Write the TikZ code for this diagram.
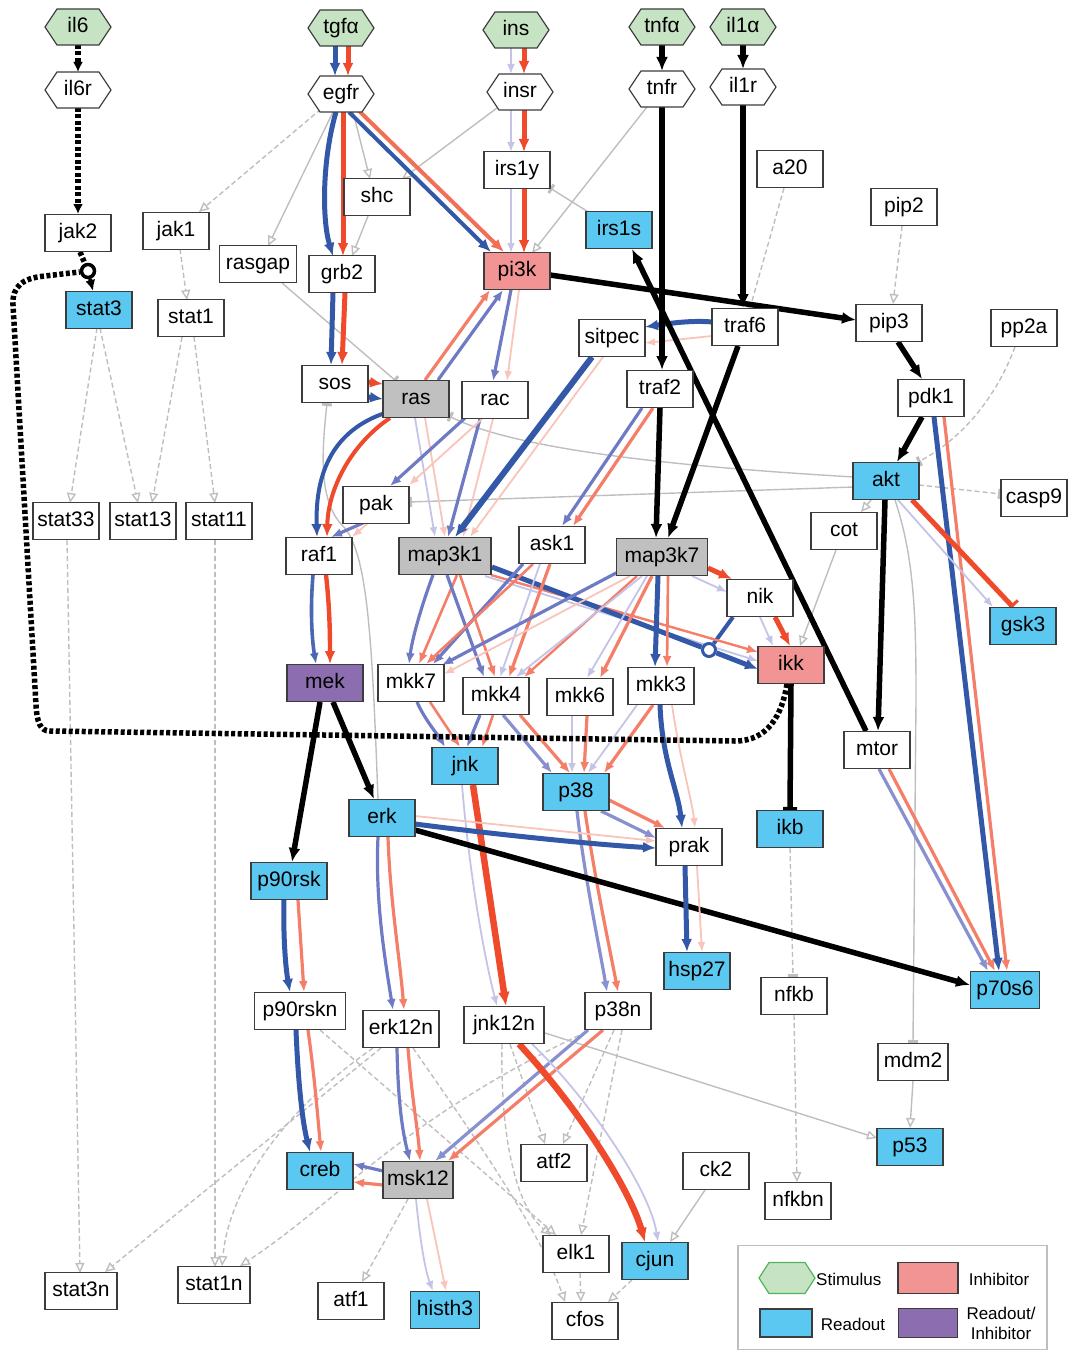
\documentclass[tikz,border=0pt]{standalone}
\usepackage{fontspec}
\setmainfont{Liberation Sans}
\usetikzlibrary{arrows.meta,backgrounds}
\definecolor{bd}{RGB}{60,60,60}
\definecolor{stim}{RGB}{198,228,196}
\definecolor{ro}{RGB}{90,200,240}
\definecolor{inh}{RGB}{242,148,148}
\definecolor{pur}{RGB}{140,110,176}
\definecolor{gnode}{RGB}{192,192,192}
\definecolor{Bdk}{RGB}{52,88,168}
\definecolor{Bmd}{RGB}{110,122,196}
\definecolor{Blt}{RGB}{196,196,232}
\definecolor{Rdk}{RGB}{240,74,44}
\definecolor{Rmd}{RGB}{244,126,104}
\definecolor{Rlt}{RGB}{249,196,186}
\definecolor{Gry}{RGB}{190,190,190}
\definecolor{leggreen}{RGB}{80,180,90}
\newcommand\nfont{\fontsize{21}{25}\selectfont}
\newcommand\lfont{\fontsize{17}{20}\selectfont}
\newcommand\hexn[5]{\draw[line width=1.2pt,draw=bd,fill=#5] (#2-33,#3) -- (#2-21,#3-18) -- (#2+21,#3-18) -- (#2+33,#3) -- (#2+21,#3+18) -- (#2-21,#3+18) -- cycle; \node[hexnode] (#1) at (#2,#3) {#4};}
\begin{document}
\begin{tikzpicture}[x=1pt,y=-1pt,
 dd/.style args={#1,#2}{shift={(#1,#2)}},
 nb/.style={draw=bd, line width=1.2pt, fill=white, minimum width=66pt, minimum height=37pt, inner xsep=4pt, inner ysep=0pt, text height=15pt, text depth=4.5pt, font=\nfont},
 rob/.style={nb, fill=ro},
 inb/.style={nb, fill=inh},
 pub/.style={nb, fill=pur},
 grb/.style={nb, fill=gnode},
 hexnode/.style={draw=none, minimum width=66pt, minimum height=36pt, inner sep=0pt, text height=15pt, text depth=4.5pt, font=\nfont},
 bT/.style={draw=Bdk, line width=5pt, -{Latex[length=13pt,width=11pt]}},
 bM/.style={draw=Bmd, line width=3.2pt, -{Latex[length=11pt,width=9pt]}},
 bL/.style={draw=Blt, line width=1.8pt, -{Latex[length=10pt,width=8pt]}},
 rT/.style={draw=Rdk, line width=5pt, -{Latex[length=13pt,width=11pt]}},
 rM/.style={draw=Rmd, line width=3.2pt, -{Latex[length=11pt,width=9pt]}},
 rL/.style={draw=Rlt, line width=1.8pt, -{Latex[length=10pt,width=8pt]}},
 bk/.style={draw=black, line width=5.5pt, -{Latex[length=14pt,width=12pt]}},
 gA/.style={draw=Gry, line width=1.4pt, -{Triangle[open,length=10pt,width=9pt]}},
 gAd/.style={gA, dash pattern=on 5pt off 3pt},
 gT/.style={draw=Gry, line width=1.4pt, -{Rectangle[open,length=3pt,width=10pt]}},
 gTd/.style={gT, dash pattern=on 5pt off 3pt},
 dotl/.style={draw=black, line width=5.5pt, dash pattern=on 4pt off 2.5pt}
]
\useasboundingbox (0,0) rectangle (1071,1351);
% hexagon nodes
\hexn{il6}{78}{27}{il6}{stim}
\hexn{tgfa}{341}{28}{tgfα}{stim}
\hexn{ins}{516}{30}{ins}{stim}
\hexn{tnfa}{662}{27}{tnfα}{stim}
\hexn{il1a}{743}{27}{il1α}{stim}
\hexn{il6r}{78}{90}{il6r}{white}
\hexn{egfr}{341}{94}{egfr}{white}
\hexn{insr}{520}{92}{insr}{white}
\hexn{tnfr}{662}{89}{tnfr}{white}
\hexn{il1r}{743}{87}{il1r}{white}
% box nodes
\node[nb] (jak2) at (78,233) {jak2};
\node[nb] (jak1) at (176,231) {jak1};
\node[nb, minimum width=77pt] (rasgap) at (258,264) {rasgap};
\node[nb] (grb2) at (342,274) {grb2};
\node[nb] (shc) at (377,197) {shc};
\node[nb] (irs1y) at (517,170) {irs1y};
\node[rob] (irs1s) at (619,230) {irs1s};
\node[inb] (pi3k) at (517,271) {pi3k};
\node[nb] (a20) at (790,169) {a20};
\node[nb] (pip2) at (904,207) {pip2};
\node[nb] (pip3) at (889,323) {pip3};
\node[nb] (pp2a) at (1024,328) {pp2a};
\node[nb] (traf6) at (745,327) {traf6};
\node[nb] (sitpec) at (612,338) {sitpec};
\node[rob] (stat3) at (99,310) {stat3};
\node[nb] (stat1) at (191,318) {stat1};
\node[nb] (sos) at (335,384) {sos};
\node[grb] (ras) at (416,399) {ras};
\node[nb] (rac) at (495,400) {rac};
\node[nb] (traf2) at (660,389) {traf2};
\node[nb] (pdk1) at (931,398) {pdk1};
\node[rob] (akt) at (886,481) {akt};
\node[nb] (casp9) at (1034,498) {casp9};
\node[nb] (cot) at (844,531) {cot};
\node[nb] (stat33) at (66,521) {stat33};
\node[nb] (stat13) at (143,521) {stat13};
\node[nb] (stat11) at (219,521) {stat11};
\node[nb] (pak) at (376,505) {pak};
\node[nb] (raf1) at (319,556) {raf1};
\node[grb, minimum width=92pt] (map3k1) at (445,556) {map3k1};
\node[nb] (ask1) at (552,545) {ask1};
\node[grb, minimum width=91pt] (map3k7) at (662,557) {map3k7};
\node[nb] (nik) at (760,598) {nik};
\node[inb] (ikk) at (791,665) {ikk};
\node[rob] (gsk3) at (1023,626) {gsk3};
\node[pub, minimum width=76pt] (mek) at (325,683) {mek};
\node[nb] (mkk7) at (411,683) {mkk7};
\node[nb] (mkk4) at (496,696) {mkk4};
\node[nb] (mkk6) at (580,697) {mkk6};
\node[nb] (mkk3) at (661,686) {mkk3};
\node[nb] (mtor) at (877,750) {mtor};
\node[rob] (jnk) at (465,766) {jnk};
\node[rob] (p38) at (576,792) {p38};
\node[rob] (erk) at (382,818) {erk};
\node[rob] (ikb) at (790,829) {ikb};
\node[nb] (prak) at (689,847) {prak};
\node[rob, minimum width=76pt] (p90rsk) at (289,881) {p90rsk};
\node[rob] (hsp27) at (697,971) {hsp27};
\node[rob, minimum width=69pt] (p70s6) at (1005,990) {p70s6};
\node[nb] (nfkb) at (794,996) {nfkb};
\node[nb, minimum width=91pt] (p90rskn) at (300,1011) {p90rskn};
\node[nb, minimum width=76pt] (erk12n) at (401,1029) {erk12n};
\node[nb, minimum width=80pt] (jnk12n) at (504,1025) {jnk12n};
\node[nb] (p38n) at (618,1011) {p38n};
\node[nb, minimum width=70pt] (mdm2) at (913,1062) {mdm2};
\node[rob] (p53) at (910,1147) {p53};
\node[rob] (creb) at (320,1171) {creb};
\node[grb, minimum width=70pt] (msk12) at (418,1180) {msk12};
\node[nb] (atf2) at (554,1163) {atf2};
\node[nb] (ck2) at (716,1171) {ck2};
\node[nb] (nfkbn) at (798,1201) {nfkbn};
\node[nb] (elk1) at (576,1254) {elk1};
\node[rob] (cjun) at (655,1261) {cjun};
\node[nb, minimum width=72pt] (stat3n) at (81,1291) {stat3n};
\node[nb, minimum width=72pt] (stat1n) at (214,1285) {stat1n};
\node[nb] (atf1) at (351,1301) {atf1};
\node[rob, minimum width=69pt] (histh3) at (445,1310) {histh3};
\node[nb] (cfos) at (585,1321) {cfos};
% junction circles
\node[circle, draw=black, line width=3.5pt, fill=white, minimum size=13pt, inner sep=0pt] (J) at (88,271) {};
\node[circle, draw=Bdk, line width=3pt, fill=white, minimum size=13pt, inner sep=0pt] (C) at (709,650) {};
% legend
\node[draw=Gry, line width=1.5pt, minimum width=309pt, minimum height=104pt, inner sep=0pt] (legend) at (892.5,1297.5) {};
\draw[line width=1.2pt, draw=leggreen, fill=stim] (759,1278) -- (769,1262.5) -- (805,1262.5) -- (815,1278) -- (805,1293.5) -- (769,1293.5) -- cycle;
\node[draw=none, minimum width=56pt, minimum height=31pt] (legstim) at (787,1278) {};
\node[fill=inh, draw=bd, line width=1.2pt, minimum width=60pt, minimum height=31pt] (leginh) at (928,1278) {};
\node[fill=ro, draw=bd, line width=1.2pt, minimum width=52pt, minimum height=28pt] (legro) at (786,1323) {};
\node[fill=pur, draw=bd, line width=1.2pt, minimum width=59pt, minimum height=29pt] (legpur) at (928,1323) {};
\node[font=\lfont, anchor=west, inner sep=0pt] (tstim) at (816,1279) {Stimulus};
\node[font=\lfont, inner sep=0pt] (tinh) at (999,1279) {Inhibitor};
\node[font=\lfont, inner sep=0pt] (tro) at (853,1324) {Readout};
\node[font=\lfont, align=center, inner sep=0pt] (trp) at (1001,1323) {Readout/\\Inhibitor};

\begin{scope}[on background layer]
% ---- gray connectors
\draw[gA] ([dd={12,18}]egfr.center) -- ([dd={-7,-18}]shc.center);
\draw[gA] ([dd={-8,18}]egfr.center) -- ([dd={10,-18}]rasgap.center);
\draw[gAd] ([dd={-20,15}]egfr.center) -- ([dd={23,-19}]jak1.center);
\draw[gA] ([dd={-23,16}]insr.center) -- ([dd={25,-18}]shc.center);
\draw[gA] ([dd={-15,18}]tnfr.center) -- ([dd={15,-18}]pi3k.center);
\draw[gA] ([dd={-9,19}]shc.center) -- ([dd={10,-18}]grb2.center);
\draw[gT] ([dd={24,19}]rasgap.center) -- ([dd={-20,-18}]ras.center);
\draw[gAd] ([dd={4,18}]jak1.center) -- ([dd={-4,-18}]stat1.center);
\draw[gAd] ([dd={-2,18}]stat3.center) -- ([dd={4,-18}]stat33.center);
\draw[gAd] ([dd={1,18}]stat3.center) -- ([dd={-5,-18}]stat13.center);
\draw[gAd] ([dd={-9,19}]stat1.center) -- ([dd={9,-18}]stat13.center);
\draw[gAd] ([dd={3,19}]stat1.center) -- ([dd={-4,-18}]stat11.center);
\draw[gAd] ([dd={1,19}]stat33.center) -- ([dd={-1,-18}]stat3n.center);
\draw[gAd] ([dd={-4,19}]stat11.center) -- ([dd={1,-18}]stat1n.center);
\draw[gT] ([dd={-29,-17}]irs1s.center) -- ([dd={33,18}]irs1y.center);
\draw[gT] ([dd={-4,-19}]erk.center) .. controls (372,640) and (368,550) .. (342,525) .. controls (318,500) and (322,450) .. ([dd={-8,19}]sos.center);
\draw[gT] ([dd={-32,-4}]akt.center) .. controls (700,468) and (520,452) .. ([dd={33,17}]ras.center);
\draw[gT] ([dd={-32,6}]akt.center) -- ([dd={33,-3}]pak.center);
\draw[gTd] ([dd={-6,19}]a20.center) -- ([dd={5,-19}]traf6.center);
\draw[gAd] ([dd={-2,19}]pip2.center) -- ([dd={4,-19}]pip3.center);
\draw[gTd] ([dd={-9,19}]pp2a.center) .. controls (995,400) and (960,440) .. ([dd={32,-19}]akt.center);
\draw[gTd] ([dd={33,4}]akt.center) -- ([dd={-33,-4}]casp9.center);
\draw[gA] ([dd={-15,19}]akt.center) -- ([dd={17,-19}]cot.center);
\draw[gT] ([dd={9,19}]akt.center) .. controls (915,560) and (916,620) .. (916,700) -- ([dd={0,-19}]mdm2.center);
\draw[gA] ([dd={-8,19}]cot.center) -- ([dd={9,-19}]ikk.center);
\draw[gTd] ([dd={0,19}]ikb.center) -- ([dd={-1,-19}]nfkb.center);
\draw[gAd] ([dd={0,19}]nfkb.center) -- ([dd={-1,-19}]nfkbn.center);
\draw[gA] ([dd={0,19}]mdm2.center) -- ([dd={0,-19}]p53.center);
\draw[gA] ([dd={41,8}]jnk12n.center) -- ([dd={-33,-9}]p53.center);
\draw[gA] ([dd={-11,19}]ck2.center) -- ([dd={15,-19}]cjun.center);
\draw[gAd] ([dd={-10,19}]msk12.center) -- ([dd={11,-19}]atf1.center);
\draw[gAd] ([dd={6,19}]jnk12n.center) -- ([dd={-9,-19}]atf2.center);
\draw[gAd] ([dd={-4,19}]p38n.center) -- ([dd={9,-19}]atf2.center);
\draw[gAd] ([dd={-2,19}]jnk12n.center) .. controls (500,1150) and (520,1210) .. ([dd={-25,-19}]elk1.center);
\draw[gAd] ([dd={4,19}]p38n.center) -- ([dd={5,-19}]elk1.center);
\draw[gAd] ([dd={20,19}]p90rskn.center) -- ([dd={-20,-19}]elk1.center);
\draw[gAd] ([dd={12,19}]erk12n.center) .. controls (470,1130) and (540,1230) .. ([dd={-20,-19}]cfos.center);
\draw[gAd] ([dd={4,19}]elk1.center) -- ([dd={-4,-19}]cfos.center);
\draw[gAd] ([dd={-23,19}]cjun.center) -- ([dd={23,-19}]cfos.center);
\draw[gAd] ([dd={-20,19}]erk12n.center) -- ([dd={24,-19}]stat3n.center);
\draw[gAd] ([dd={-28,19}]erk12n.center) .. controls (270,1120) and (228,1200) .. ([dd={8,-19}]stat1n.center);
\draw[gAd] ([dd={-32,21}]p38n.center) .. controls (400,1120) and (340,1200) .. ([dd={26,-19}]stat1n.center);
% ---- colored connectors, top
\draw[bT] ([dd={-6,18}]tgfa.center) -- ([dd={-6,-18}]egfr.center);
\draw[rT] ([dd={7,18}]tgfa.center) -- ([dd={7,-18}]egfr.center);
\draw[bL] ([dd={-5,18}]ins.center) -- ([dd={-9,-18}]insr.center);
\draw[rT] ([dd={8,18}]ins.center) -- ([dd={4,-18}]insr.center);
\draw[bL] ([dd={-9,18}]insr.center) -- ([dd={-6,-18}]irs1y.center);
\draw[rT] ([dd={4,18}]insr.center) -- ([dd={7,-18}]irs1y.center);
\draw[bL] ([dd={-6,18}]irs1y.center) -- ([dd={-6,-18}]pi3k.center);
\draw[rT] ([dd={7,18}]irs1y.center) -- ([dd={7,-18}]pi3k.center);
\draw[bT] ([dd={-5,18}]egfr.center) .. controls (322,160) and (322,220) .. ([dd={-9,-18}]grb2.center);
\draw[rT] ([dd={2,18}]egfr.center) -- ([dd={1,-18}]grb2.center);
\draw[bT, line width=4pt] ([dd={8,18}]egfr.center) -- ([dd={-26,-19}]pi3k.center);
\draw[rT, draw=Rmd!70!Rdk, line width=4pt] ([dd={16,15}]egfr.center) -- ([dd={-13,-19}]pi3k.center);
\draw[bT] ([dd={-9,19}]grb2.center) -- ([dd={-4,-19}]sos.center);
\draw[rT] ([dd={3,19}]grb2.center) -- ([dd={7,-19}]sos.center);
\draw[rT] ([dd={33,-2}]sos.center) -- ([dd={-33,-15}]ras.center);
\draw[bT] ([dd={33,13}]sos.center) -- ([dd={-33,0}]ras.center);
\draw[bT, line width=4pt] ([dd={-31,14}]ras.center) .. controls (335,430) and (315,470) .. ([dd={-2,-19}]raf1.center);
\draw[rT, line width=4pt] ([dd={-26,19}]ras.center) .. controls (350,445) and (328,490) .. ([dd={8,-19}]raf1.center);
\draw[bM, draw=Bdk!60!Bmd, line width=3.6pt] ([dd={-6,19}]raf1.center) .. controls (310,610) and (312,640) .. ([dd={-9,-19}]mek.center);
\draw[rT, line width=4.4pt] ([dd={7,19}]raf1.center) .. controls (330,610) and (330,640) .. ([dd={5,-19}]mek.center);
\draw[rM] ([dd={9,-19}]ras.center) -- ([dd={-27,19}]pi3k.center);
\draw[bM] ([dd={22,-19}]ras.center) -- ([dd={-14,19}]pi3k.center);
\draw[bM] ([dd={-6,19}]pi3k.center) -- ([dd={-2,-19}]rac.center);
\draw[rL] ([dd={2,19}]pi3k.center) -- ([dd={12,-19}]rac.center);
\draw[bL] ([dd={-1,19}]ras.center) -- ([dd={-10,-19}]map3k1.center);
\draw[rL] ([dd={9,19}]ras.center) -- ([dd={0,-19}]map3k1.center);
\draw[bM] ([dd={-15,19}]rac.center) -- ([dd={3,-19}]map3k1.center);
\draw[rL] ([dd={-2,19}]rac.center) -- ([dd={18,-19}]map3k1.center);
\draw[bT, line width=6pt] ([dd={-20,19}]sitpec.center) -- ([dd={10,-19}]map3k1.center);
\draw[rL] ([dd={-9,19}]sitpec.center) -- ([dd={25,-19}]map3k1.center);
\draw[bM] ([dd={-30,18}]rac.center) -- ([dd={14,-19}]pak.center);
\draw[rL] ([dd={-13,19}]rac.center) -- ([dd={33,-20}]pak.center);
\draw[bM] ([dd={-13,18}]pak.center) -- ([dd={12,-19}]raf1.center);
\draw[rL] ([dd={-8,18}]pak.center) -- ([dd={33,-19}]raf1.center);
\draw[bT] ([dd={-33,-5}]traf6.center) .. controls (690,320) and (665,324) .. ([dd={33,-11}]sitpec.center);
\draw[rL] ([dd={-33,9}]traf6.center) -- ([dd={33,5}]sitpec.center);
\draw[bM] ([dd={-18,19}]traf2.center) -- ([dd={10,-19}]ask1.center);
\draw[rM] ([dd={-7,19}]traf2.center) -- ([dd={21,-19}]ask1.center);
% ---- right side
\draw[bT] ([dd={3,19}]pdk1.center) -- ([dd={-6,-19}]p70s6.center);
\draw[rM] ([dd={13,19}]pdk1.center) -- ([dd={2,-19}]p70s6.center);
\draw[bM, draw=Bmd!70!Blt] ([dd={2,19}]mtor.center) -- ([dd={-17,-19}]p70s6.center);
\draw[rM] ([dd={12,19}]mtor.center) -- ([dd={-10,-19}]p70s6.center);
\draw[bL] ([dd={12,19}]akt.center) -- ([dd={-30,-19}]gsk3.center);
\draw[draw=Rdk, line width=5pt, -{Rectangle[length=3pt,width=16pt]}] ([dd={26,19}]akt.center) -- ([dd={-10,-19}]gsk3.center);
% ---- nik / ikk
\draw[rT] ([dd={46,11}]map3k7.center) -- ([dd={-28,-19}]nik.center);
\draw[bL] ([dd={30,19}]map3k7.center) -- ([dd={-33,-6}]nik.center);
\draw[bL] ([dd={0,19}]nik.center) -- ([dd={-18,-19}]ikk.center);
\draw[rT] ([dd={15,19}]nik.center) -- ([dd={-1,-19}]ikk.center);
\draw[draw=Bdk, line width=4pt] ([dd={-27,19}]nik.center) -- (C);
\draw[rM, line width=2.4pt] ([dd={46,19}]map3k1.center) -- ([dd={-33,-13}]ikk.center);
\draw[bL] ([dd={40,20}]map3k1.center) -- ([dd={-33,-4}]ikk.center);
\draw[bT] ([dd={47,11}]map3k1.center) -- (C) -- ([dd={-33,4}]ikk.center);
% ---- mkk layer
\draw[bM] ([dd={-12,19}]map3k1.center) .. controls (420,610) and (412,640) .. ([dd={-2,-19}]mkk7.center);
\draw[rM, line width=2.6pt] ([dd={12,19}]map3k1.center) -- ([dd={8,-19}]mkk7.center);
\draw[bM] ([dd={2,19}]map3k1.center) -- ([dd={-12,-19}]mkk4.center);
\draw[rM, line width=2.6pt] ([dd={15,19}]map3k1.center) -- ([dd={-1,-19}]mkk4.center);
\draw[bM] ([dd={-29,19}]ask1.center) -- ([dd={22,-19}]mkk7.center);
\draw[rM, line width=2.6pt] ([dd={-19,19}]ask1.center) -- ([dd={15,-19}]mkk7.center);
\draw[bL] ([dd={-12,19}]ask1.center) -- ([dd={4,-19}]mkk4.center);
\draw[rM] ([dd={-2,19}]ask1.center) -- ([dd={13,-19}]mkk4.center);
\draw[bM] ([dd={-44,15}]map3k7.center) -- ([dd={31,-18}]mkk7.center);
\draw[rL] ([dd={-32,19}]map3k7.center) -- ([dd={33,-9}]mkk7.center);
\draw[rM, line width=2.4pt] ([dd={-25,19}]map3k7.center) -- ([dd={28,-19}]mkk4.center);
\draw[bL] ([dd={-20,19}]map3k7.center) -- ([dd={20,-19}]mkk4.center);
\draw[bL] ([dd={-15,19}]map3k7.center) -- ([dd={7,-19}]mkk6.center);
\draw[rM] ([dd={-10,19}]map3k7.center) -- ([dd={20,-19}]mkk6.center);
\draw[bT] ([dd={-4,19}]map3k7.center) -- ([dd={-6,-19}]mkk3.center);
\draw[rM, line width=2.6pt] ([dd={6,19}]map3k7.center) -- ([dd={6,-19}]mkk3.center);
\draw[bM] ([dd={6,19}]mkk7.center) .. controls (425,720) and (438,735) .. ([dd={-20,-19}]jnk.center);
\draw[rM, line width=2.6pt] ([dd={19,19}]mkk7.center) -- ([dd={-5,-19}]jnk.center);
\draw[bM] ([dd={-16,19}]mkk4.center) -- ([dd={2,-19}]jnk.center);
\draw[rM, line width=2.6pt] ([dd={-3,19}]mkk4.center) -- ([dd={17,-19}]jnk.center);
\draw[bM, draw=Bmd!70!Blt] ([dd={7,19}]mkk4.center) -- ([dd={-24,-19}]p38.center);
\draw[rM] ([dd={24,19}]mkk4.center) -- ([dd={-6,-19}]p38.center);
\draw[bL] ([dd={-8,19}]mkk6.center) -- ([dd={-4,-19}]p38.center);
\draw[rM] ([dd={7,19}]mkk6.center) -- ([dd={8,-19}]p38.center);
\draw[bL] ([dd={-24,19}]mkk3.center) -- ([dd={12,-19}]p38.center);
\draw[rM] ([dd={-8,19}]mkk3.center) -- ([dd={28,-19}]p38.center);
\draw[bT] ([dd={-1,19}]mkk3.center) .. controls (662,760) and (678,790) .. ([dd={-7,-19}]prak.center);
\draw[rL] ([dd={11,19}]mkk3.center) .. controls (680,760) and (692,800) .. ([dd={6,-19}]prak.center);
% ---- lower
\draw[bL] ([dd={-3,19}]jnk.center) .. controls (470,880) and (485,960) .. ([dd={-7,-19}]jnk12n.center);
\draw[rT, line width=6.5pt, -{Latex[length=14pt,width=12pt]}] ([dd={8,19}]jnk.center) -- ([dd={2,-19}]jnk12n.center);
\draw[bM, draw=Bmd!70!Blt] ([dd={1,19}]p38.center) .. controls (585,880) and (600,950) .. ([dd={-11,-19}]p38n.center);
\draw[rM] ([dd={9,19}]p38.center) .. controls (595,880) and (610,950) .. ([dd={0,-19}]p38n.center);
\draw[rM] ([dd={33,8}]p38.center) -- ([dd={-24,-19}]prak.center);
\draw[bM, draw=Bmd!70!Blt] ([dd={25,19}]p38.center) -- ([dd={-33,-9}]prak.center);
\draw[rL] ([dd={33,-2}]erk.center) -- ([dd={-33,-6}]prak.center);
\draw[bT] ([dd={33,6}]erk.center) .. controls (500,835) and (600,845) .. ([dd={-33,1}]prak.center);
\draw[bk] ([dd={-5,19}]mek.center) -- ([dd={3,-19}]p90rsk.center);
\draw[bk] ([dd={8,19}]mek.center) -- ([dd={-8,-19}]erk.center);
\draw[bk] ([dd={33,12}]erk.center) -- ([dd={-35,-5}]p70s6.center);
\draw[bT] ([dd={-4,19}]prak.center) -- ([dd={-10,-19}]hsp27.center);
\draw[rL] ([dd={8,19}]prak.center) -- ([dd={5,-19}]hsp27.center);
\draw[bT] ([dd={-5,19}]p90rsk.center) .. controls (283,940) and (286,970) .. ([dd={-10,-19}]p90rskn.center);
\draw[rM] ([dd={9,19}]p90rsk.center) -- ([dd={4,-19}]p90rskn.center);
\draw[bM] ([dd={-4,19}]erk.center) .. controls (375,900) and (385,960) .. ([dd={-8,-19}]erk12n.center);
\draw[rM] ([dd={6,19}]erk.center) .. controls (390,900) and (400,960) .. ([dd={3,-19}]erk12n.center);
\draw[bT] ([dd={-4,19}]p90rskn.center) .. controls (298,1080) and (302,1120) .. ([dd={-10,-19}]creb.center);
\draw[rM] ([dd={8,19}]p90rskn.center) .. controls (315,1080) and (318,1120) .. ([dd={1,-19}]creb.center);
\draw[bM] ([dd={-4,19}]erk12n.center) .. controls (398,1100) and (402,1130) .. ([dd={-8,-19}]msk12.center);
\draw[rM] ([dd={7,19}]erk12n.center) .. controls (412,1100) and (418,1130) .. ([dd={2,-19}]msk12.center);
\draw[bM] ([dd={-35,-9}]msk12.center) -- ([dd={33,-7}]creb.center);
\draw[rM] ([dd={-35,5}]msk12.center) -- ([dd={33,11}]creb.center);
\draw[bL] ([dd={-2,19}]msk12.center) .. controls (420,1240) and (425,1270) .. ([dd={-12,-19}]histh3.center);
\draw[rL] ([dd={9,19}]msk12.center) -- ([dd={1,-19}]histh3.center);
\draw[bM, draw=Bmd!70!Blt] ([dd={-30,19}]p38n.center) -- ([dd={17,-19}]msk12.center);
\draw[rM] ([dd={-15,19}]p38n.center) -- ([dd={30,-19}]msk12.center);
\draw[bL] ([dd={28,19}]jnk12n.center) .. controls (590,1100) and (650,1190) .. ([dd={3,-19}]cjun.center);
\draw[rT, line width=6.5pt, -{Latex[length=14pt,width=12pt]}] ([dd={15,19}]jnk12n.center) .. controls (580,1110) and (630,1190) .. ([dd={-10,-19}]cjun.center);
% ---- black connectors
\draw[bk] ([dd={0,18}]tnfa.center) -- ([dd={0,-18}]tnfr.center);
\draw[bk] ([dd={0,18}]il1a.center) -- ([dd={0,-18}]il1r.center);
\draw[bk] ([dd={0,18}]tnfr.center) -- ([dd={2,-19}]traf2.center);
\draw[bk] ([dd={0,18}]il1r.center) -- ([dd={-2,-19}]traf6.center);
\draw[bk] ([dd={33,4}]pi3k.center) -- ([dd={-33,-3}]pip3.center);
\draw[bk] ([dd={-7,19}]traf6.center) -- ([dd={6,-19}]map3k7.center);
\draw[bk] ([dd={0,19}]traf2.center) -- ([dd={-6,-19}]map3k7.center);
\draw[bk] ([dd={-11,-19}]mtor.center) -- ([dd={13,19}]irs1s.center);
\draw[bk] ([dd={9,19}]pip3.center) -- ([dd={-9,-19}]pdk1.center);
\draw[bk] ([dd={-9,19}]pdk1.center) -- ([dd={11,-19}]akt.center);
\draw[bk] ([dd={-1,19}]akt.center) -- ([dd={1,-19}]mtor.center);
\draw[draw=black, line width=5.5pt, -{Rectangle[length=3pt,width=14pt]}] ([dd={0,19}]ikk.center) -- ([dd={0,-19}]ikb.center);
% ---- dotted il6 pathway
\draw[dotl, -{Latex[length=10pt,width=10pt]}] ([dd={0,18}]il6.center) -- ([dd={0,-18}]il6r.center);
\draw[dotl, -{Latex[length=10pt,width=10pt]}] ([dd={0,18}]il6r.center) -- ([dd={0,-19}]jak2.center);
\draw[dotl] ([dd={2,19}]jak2.center) -- (J);
\draw[draw=black, line width=4pt, -{Latex[length=11pt,width=10pt]}] (J) -- ([dd={-6,-19}]stat3.center);
\draw[dotl] ([dd={-4,19}]ikk.center) .. controls (782,715) and (768,741) .. (735,741) -- (50,731) .. controls (40,731) and (37,722) .. (36,705) -- (13,305) .. controls (12,287) and (22,278) .. (45,276) -- (J);
\end{scope}
\end{tikzpicture}
\end{document}
